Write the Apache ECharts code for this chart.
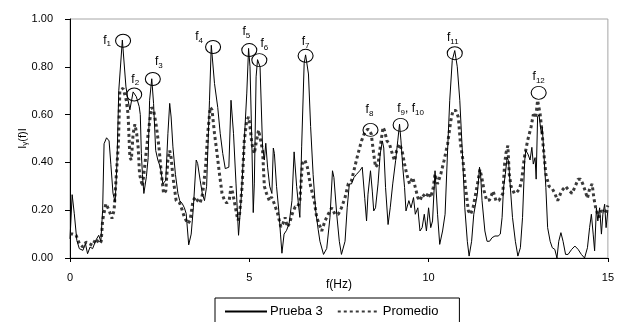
<!DOCTYPE html>
<html><head><meta charset="utf-8">
<script src="https://cdn.jsdelivr.net/npm/echarts@6/dist/echarts.min.js"></script>
<style>html,body{margin:0;padding:0;background:#fff}#c{width:617px;height:322px}</style>
</head><body><div id="c"></div>
<script>
// Prueba 3 (solid)
var pruebaF = [0.00,0.06,0.12,0.19,0.26,0.36,0.43,0.49,0.56,0.63,0.72,0.80,0.86,0.91,0.95,1.02,1.09,1.14,1.20,1.26,1.31,1.36,1.46,1.56,1.62,1.67,1.76,1.85,1.93,1.96,1.99,2.02,2.06,2.13,2.18,2.22,2.28,2.33,2.39,2.45,2.52,2.59,2.67,2.73,2.78,2.82,2.87,2.94,3.01,3.06,3.13,3.19,3.24,3.31,3.38,3.44,3.52,3.56,3.63,3.69,3.75,3.81,3.89,3.94,4.03,4.12,4.19,4.26,4.33,4.43,4.49,4.52,4.56,4.63,4.70,4.77,4.86,4.93,4.98,5.02,5.07,5.11,5.14,5.19,5.23,5.30,5.37,5.42,5.46,5.51,5.57,5.63,5.67,5.70,5.76,5.83,5.87,5.91,5.97,6.04,6.11,6.19,6.25,6.28,6.32,6.36,6.41,6.46,6.53,6.57,6.65,6.71,6.78,6.85,6.92,6.97,7.07,7.16,7.25,7.32,7.36,7.44,7.51,7.57,7.67,7.73,7.79,7.85,7.92,7.99,8.08,8.15,8.22,8.27,8.31,8.38,8.43,8.47,8.52,8.59,8.65,8.71,8.75,8.80,8.87,8.93,9.00,9.08,9.14,9.19,9.23,9.28,9.33,9.37,9.45,9.51,9.58,9.63,9.70,9.76,9.82,9.88,9.94,10.00,10.06,10.11,10.18,10.25,10.31,10.39,10.46,10.53,10.59,10.66,10.73,10.80,10.87,10.94,11.01,11.08,11.13,11.20,11.26,11.36,11.42,11.45,11.49,11.57,11.63,11.70,11.77,11.85,11.94,12.00,12.05,12.09,12.14,12.19,12.23,12.28,12.34,12.42,12.49,12.56,12.62,12.68,12.71,12.77,12.83,12.88,12.92,12.97,13.00,13.04,13.08,13.12,13.15,13.17,13.21,13.27,13.32,13.39,13.45,13.52,13.58,13.63,13.69,13.75,13.82,13.89,13.99,14.08,14.17,14.26,14.35,14.43,14.49,14.54,14.59,14.63,14.68,14.72,14.77,14.82,14.86,14.91,14.95,15.00];
var pruebaV = [0.08,0.265,0.185,0.074,0.039,0.032,0.06,0.018,0.046,0.039,0.074,0.095,0.07,0.2,0.478,0.503,0.49,0.39,0.27,0.234,0.4,0.7,0.912,0.716,0.66,0.62,0.695,0.675,0.633,0.6,0.437,0.35,0.27,0.34,0.42,0.66,0.75,0.647,0.45,0.41,0.38,0.31,0.325,0.52,0.647,0.59,0.465,0.35,0.27,0.24,0.228,0.21,0.186,0.055,0.1,0.21,0.41,0.395,0.325,0.27,0.24,0.3,0.66,0.89,0.73,0.63,0.52,0.437,0.374,0.38,0.66,0.66,0.52,0.31,0.095,0.24,0.49,0.69,0.877,0.8,0.49,0.19,0.31,0.758,0.83,0.8,0.465,0.41,0.48,0.38,0.3,0.27,0.46,0.437,0.3,0.186,0.1,0.02,0.1,0.116,0.144,0.24,0.444,0.45,0.3,0.24,0.17,0.465,0.815,0.85,0.77,0.55,0.35,0.2,0.12,0.07,0.015,0.04,0.17,0.365,0.337,0.18,0.07,0.015,0.07,0.21,0.31,0.31,0.337,0.35,0.365,0.38,0.25,0.155,0.267,0.365,0.28,0.197,0.21,0.31,0.435,0.49,0.46,0.295,0.14,0.21,0.31,0.407,0.49,0.56,0.49,0.38,0.295,0.197,0.24,0.21,0.253,0.183,0.21,0.113,0.127,0.183,0.113,0.21,0.127,0.155,0.365,0.183,0.057,0.113,0.183,0.45,0.66,0.827,0.868,0.8,0.66,0.45,0.21,0.07,0.008,0.07,0.183,0.267,0.38,0.35,0.24,0.113,0.07,0.07,0.085,0.092,0.092,0.1,0.17,0.295,0.35,0.42,0.407,0.295,0.17,0.07,0.008,0.043,0.17,0.407,0.45,0.435,0.41,0.463,0.393,0.42,0.33,0.59,0.6,0.547,0.52,0.547,0.45,0.295,0.127,0.07,0.043,0.036,0.0,0.07,0.106,0.07,0.015,0.015,0.036,0.05,0.036,0.015,0.0,0.043,0.127,0.183,0.1,0.03,0.21,0.155,0.21,0.1,0.183,0.225,0.127,0.2];
// Promedio (dashed)
var promedioF = [0.00,0.08,0.17,0.26,0.36,0.45,0.54,0.63,0.72,0.82,0.87,0.91,1.00,1.09,1.17,1.23,1.30,1.35,1.39,1.48,1.57,1.62,1.67,1.71,1.76,1.81,1.86,1.90,1.94,2.02,2.08,2.18,2.27,2.33,2.41,2.48,2.55,2.61,2.67,2.73,2.78,2.82,2.87,2.96,3.06,3.13,3.19,3.29,3.35,3.43,3.50,3.56,3.63,3.70,3.78,3.84,3.91,3.96,4.03,4.09,4.17,4.24,4.31,4.37,4.44,4.49,4.54,4.61,4.68,4.72,4.80,4.86,4.93,4.98,5.02,5.07,5.14,5.20,5.26,5.32,5.37,5.42,5.48,5.56,5.62,5.69,5.79,5.88,5.94,6.00,6.06,6.12,6.20,6.28,6.35,6.41,6.48,6.55,6.62,6.71,6.81,6.88,7.02,7.11,7.20,7.30,7.39,7.48,7.57,7.67,7.76,7.85,7.94,8.03,8.13,8.22,8.31,8.40,8.47,8.52,8.59,8.65,8.73,8.77,8.84,8.91,8.99,9.05,9.11,9.19,9.26,9.33,9.39,9.47,9.56,9.63,9.70,9.76,9.83,9.93,10.00,10.06,10.13,10.18,10.25,10.34,10.43,10.53,10.62,10.68,10.76,10.83,10.89,10.96,11.03,11.11,11.17,11.24,11.31,11.38,11.43,11.48,11.55,11.62,11.70,11.80,11.88,11.96,12.07,12.12,12.16,12.21,12.25,12.30,12.39,12.46,12.54,12.60,12.67,12.76,12.86,12.92,12.99,13.04,13.11,13.15,13.20,13.27,13.36,13.45,13.52,13.60,13.64,13.71,13.82,13.90,14.00,14.09,14.17,14.24,14.30,14.37,14.43,14.49,14.56,14.61,14.66,14.75,14.82,14.93,15.00];
var promedioV = [0.1,0.1,0.095,0.06,0.046,0.067,0.06,0.053,0.08,0.06,0.07,0.158,0.227,0.2,0.165,0.2,0.367,0.478,0.7,0.71,0.66,0.6,0.42,0.41,0.52,0.56,0.52,0.465,0.35,0.3,0.38,0.52,0.63,0.62,0.55,0.465,0.35,0.27,0.28,0.41,0.45,0.42,0.34,0.24,0.23,0.2,0.17,0.144,0.158,0.24,0.255,0.24,0.23,0.27,0.38,0.52,0.63,0.62,0.52,0.45,0.35,0.27,0.24,0.23,0.24,0.3,0.27,0.214,0.158,0.17,0.3,0.49,0.577,0.59,0.55,0.48,0.437,0.49,0.535,0.49,0.45,0.3,0.27,0.24,0.255,0.23,0.186,0.13,0.144,0.17,0.13,0.144,0.186,0.214,0.214,0.24,0.395,0.41,0.38,0.3,0.24,0.17,0.113,0.155,0.183,0.21,0.183,0.183,0.21,0.253,0.31,0.323,0.38,0.435,0.49,0.526,0.54,0.52,0.435,0.38,0.393,0.463,0.547,0.533,0.49,0.477,0.435,0.407,0.45,0.477,0.45,0.393,0.351,0.31,0.337,0.295,0.253,0.24,0.267,0.253,0.274,0.253,0.295,0.351,0.31,0.351,0.407,0.477,0.575,0.617,0.617,0.589,0.477,0.407,0.295,0.197,0.183,0.21,0.267,0.323,0.37,0.34,0.28,0.24,0.243,0.28,0.24,0.24,0.27,0.393,0.44,0.47,0.351,0.3,0.27,0.275,0.29,0.33,0.42,0.49,0.55,0.6,0.589,0.66,0.603,0.547,0.463,0.351,0.3,0.29,0.27,0.24,0.24,0.281,0.3,0.285,0.27,0.3,0.33,0.33,0.31,0.28,0.25,0.29,0.31,0.25,0.21,0.17,0.197,0.19,0.22];
// Annotated peaks
var peakNames = ['1','2','3','4','5','6','7','8','9, f10','11','12'];
var peakF = [1.48,1.79,2.31,3.99,5.00,5.28,6.57,8.38,9.22,10.73,13.07];
var peakV = [0.909,0.684,0.749,0.883,0.870,0.828,0.846,0.536,0.557,0.857,0.691];
var xTicks = [0,5,10,15];
var yTicks = [0.00,0.20,0.40,0.60,0.80,1.00];

function zip(a,b){return a.map(function(v,i){return [v,b[i]];});}
var offsets = [[-16,0],[1,-15],[6,-17],[-14,-10],[-3,-18],[5,-16],[0,-14],[-1,-20],[10,-16],[-2,-15],[0,-16]];
var FONT = 'Liberation Sans, Arial, sans-serif';
var richSub = {
  m:{fontSize:12,fontFamily:FONT,color:'#000'},
  s:{fontSize:8,fontFamily:FONT,color:'#000',padding:[7,0,0,0]}
};
var mp = peakF.map(function(f,i){
  var n = peakNames[i];
  var fmt = n.indexOf(',')>=0 ? '{m|f}{s|9}{m|, f}{s|10}' : '{m|f}{s|'+n+'}';
  return {coord:[f,peakV[i]], symbol:'circle', symbolSize:[15,13],
    itemStyle:{color:'rgba(0,0,0,0)',borderColor:'#000',borderWidth:1},
    label:{show:true,position:'inside',offset:offsets[i],formatter:fmt,rich:richSub}};
});

var chart = echarts.init(document.getElementById('c'), null, {renderer:'canvas'});
chart.setOption({
  animation:false,
  backgroundColor:'#fff',
  grid:{left:70,top:19,width:543,height:239,show:true,borderColor:'#a6a6a6',borderWidth:1,backgroundColor:'transparent'},
  legend:{left:215,top:298,orient:'horizontal',data:['Prueba 3','Promedio'],
    itemWidth:42,itemHeight:14,itemGap:14,padding:[7,21,7,9],
    itemStyle:{opacity:0},
    borderColor:'#000',borderWidth:1,borderRadius:0,
    textStyle:{fontSize:13,fontFamily:FONT,color:'#000',padding:[0,0,0,-2]}},
  xAxis:{type:'value',min:0,max:15,interval:5,
    name:'f(Hz)',nameLocation:'middle',nameGap:21,nameMoveOverlap:false,
    nameTextStyle:{fontSize:12,fontFamily:FONT,color:'#000'},
    axisLine:{lineStyle:{color:'#000',width:1}},
    axisTick:{show:true,length:4,lineStyle:{color:'#000'}},
    axisLabel:{fontSize:11,fontFamily:FONT,color:'#000',margin:14,
      formatter:function(v){return xTicks.indexOf(v)>=0?String(v):'';}},
    splitLine:{show:false}},
  yAxis:{type:'value',min:0,max:1,interval:0.2,
    name:'{m|I}{s|γ}{m|(f)I}',nameLocation:'middle',nameGap:41,nameMoveOverlap:false,
    nameTextStyle:{rich:{m:{fontSize:11,fontFamily:FONT,color:'#000'},s:{fontSize:8,fontFamily:FONT,color:'#000',padding:[5,0,0,0]}}},
    axisLine:{show:true,lineStyle:{color:'#000',width:1}},
    axisTick:{show:true,length:5,lineStyle:{color:'#000'}},
    axisLabel:{fontSize:11,fontFamily:FONT,color:'#000',margin:17,
      formatter:function(v){return v.toFixed(2);}},
    splitLine:{show:false}},
  series:[
    {name:'Prueba 3',type:'line',data:zip(pruebaF,pruebaV),showSymbol:false,symbol:'none',z:3,
      lineStyle:{color:'#000',width:1},itemStyle:{color:'#000'},
      markPoint:{data:mp,silent:true}},
    {name:'Promedio',type:'line',data:zip(promedioF,promedioV),showSymbol:false,symbol:'none',z:2,
      lineStyle:{color:'#3a3a3a',width:3,type:[3,3]},itemStyle:{color:'#3a3a3a'}}
  ]
});
</script></body></html>
